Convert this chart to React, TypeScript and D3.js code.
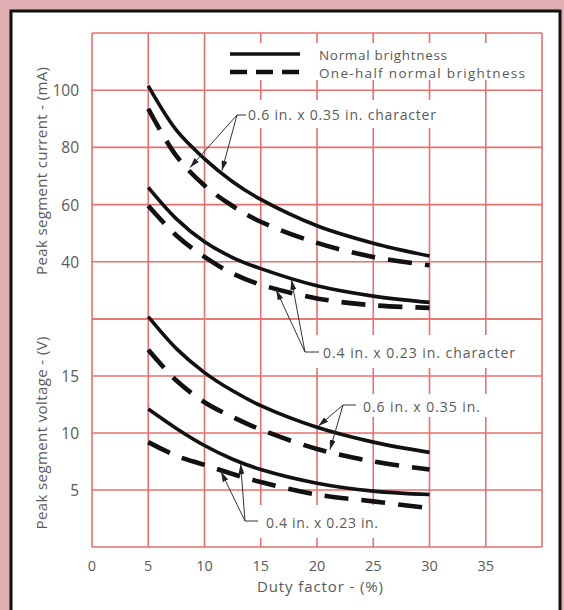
import React from 'react';
import * as d3 from 'd3';

// Duty factor sample points (%)
const duty = [5, 7.5, 10, 12.5, 15, 20, 25, 30];
// Peak segment current (mA)
const currentLargeNormal = [101.5, 86, 76, 68, 61.8, 52.6, 46.5, 42];
const currentLargeHalf = [93.5, 77, 66.7, 59.5, 54, 46.6, 41.7, 38.8];
const currentSmallNormal = [66, 55, 47, 41.5, 37.6, 31.6, 28, 25.8];
const currentSmallHalf = [59.6, 49.2, 41.7, 35.9, 32, 27.2, 24.8, 23.9];
// Peak segment voltage (V)
const voltageLargeNormal = [20.2, 17.4, 15.3, 13.7, 12.4, 10.5, 9.2, 8.3];
const voltageLargeHalf = [17.3, 14.6, 12.7, 11.4, 10.3, 8.6, 7.5, 6.8];
const voltageSmallNormal = [12.1, 10.4, 8.9, 7.7, 6.8, 5.6, 4.9, 4.6];
const voltageSmallHalf = [9.2, 8.0, 7.2, 6.4, 5.7, 4.6, 4.0, 3.4];

const xGrid = [0, 5, 10, 15, 20, 25, 30, 35, 40];
const xTickLabels = [0, 5, 10, 15, 20, 25, 30, 35];
const currentGrid = [120, 100, 80, 60, 40, 20];
const currentTickLabels = [100, 80, 60, 40];
const voltageGrid = [20, 15, 10, 5, 0];
const voltageTickLabels = [15, 10, 5];

const legendLabels = ['Normal brightness', 'One-half normal brightness'];
const sizeLabels = ['0.6 in. x 0.35 in. character', '0.4 in. x 0.23 in. character', '0.6 in. x 0.35 in.', '0.4 in. x 0.23 in.'];

const W = 564, H = 610;
const PINK = '#e0adb2';
const GRID = '#e66f6f';
const TEXT = '#5a5a5a';
const FONT = '"Open Sans", "Noto Sans", sans-serif';

function interp(xs: number[], ys: number[], v: number) {
  for (let i = 0; i < xs.length - 1; i++) {
    if (v >= xs[i] && v <= xs[i + 1]) {
      const t = (v - xs[i]) / (xs[i + 1] - xs[i]);
      return ys[i] + t * (ys[i + 1] - ys[i]);
    }
  }
  return ys[ys.length - 1];
}

export default function App() {
  const x = d3.scaleLinear().domain([0, 40]).range([92, 542]);
  const yTop = d3.scaleLinear().domain([20, 120]).range([319, 33]);
  const yBot = d3.scaleLinear().domain([0, 20]).range([547, 319]);

  const curve = d3.curveCatmullRom.alpha(0.5);
  const lineTop = d3.line<number>().x((_, i) => x(duty[i])).y(d => yTop(d)).curve(curve);
  const lineBot = d3.line<number>().x((_, i) => x(duty[i])).y(d => yBot(d)).curve(curve);

  const solid = { fill: 'none', stroke: '#111', strokeWidth: 3.6 };
  const dashed = { fill: 'none', stroke: '#111', strokeWidth: 4.6, strokeDasharray: '24 13' };

  const masks = [
    [225, 43, 305, 37],
    [230, 100, 220, 28],
    [298, 335, 227, 33],
    [340, 394, 152, 23],
    [240, 505, 150, 33],
  ];

  const arrow = (ax: number, ay: number, d: number, series: number[], ys: (v: number) => number, key: string) => {
    const tx = x(d);
    const ty = ys(interp(duty, series, d));
    const dx = tx - ax, dy = ty - ay;
    const len = Math.hypot(dx, dy);
    const ex = tx - (dx / len) * 2;
    const ey = ty - (dy / len) * 2;
    return <line key={key} x1={ax} y1={ay} x2={ex} y2={ey} stroke="#333" strokeWidth={1} markerEnd="url(#ah)" />;
  };

  const left = x(0), right = x(40);

  return (
    <div style={{ position: 'absolute', left: 0, top: 0 }}>
      <svg width={W} height={H} style={{ display: 'block' }} fontFamily={FONT}>
        <defs>
          <marker id="ah" viewBox="0 0 10 6" refX="10" refY="3" markerWidth="10" markerHeight="6" markerUnits="userSpaceOnUse" orient="auto">
            <path d="M0,0L10,3L0,6z" fill="#222" />
          </marker>
        </defs>
        <rect x={0} y={0} width={W} height={H} fill={PINK} />
        <rect x={11} y={11} width={549} height={640} fill="#fff" stroke="#111" strokeWidth={3} />

        <g stroke={GRID} strokeWidth={1.6}>
          {xGrid.map(v => (
            <line key={'xg' + v} x1={x(v)} x2={x(v)} y1={yTop(120)} y2={yBot(0)} />
          ))}
          {currentGrid.map(v => (
            <line key={'cg' + v} x1={left} x2={right} y1={yTop(v)} y2={yTop(v)} />
          ))}
          {voltageGrid.map(v => (
            <line key={'vg' + v} x1={left} x2={right} y1={yBot(v)} y2={yBot(v)} />
          ))}
        </g>
        {masks.map((m, i) => (
          <rect key={'m' + i} x={m[0]} y={m[1]} width={m[2]} height={m[3]} fill="#fff" />
        ))}

        <path d={lineTop(currentLargeNormal) || ''} {...solid} />
        <path d={lineTop(currentLargeHalf) || ''} {...dashed} />
        <path d={lineTop(currentSmallNormal) || ''} {...solid} />
        <path d={lineTop(currentSmallHalf) || ''} {...dashed} />
        <path d={lineBot(voltageLargeNormal) || ''} {...solid} />
        <path d={lineBot(voltageLargeHalf) || ''} {...dashed} />
        <path d={lineBot(voltageSmallNormal) || ''} {...solid} />
        <path d={lineBot(voltageSmallHalf) || ''} {...dashed} />

        <line x1={230} x2={300} y1={54} y2={54} stroke="#111" strokeWidth={3.6} />
        <line x1={230} x2={300} y1={72} y2={72} stroke="#111" strokeWidth={4.6} strokeDasharray="17 9" />
        <g fill={TEXT} fontSize={13.5} dominantBaseline="central">
          <text x={319} y={55} textLength={128} lengthAdjust="spacing">{legendLabels[0]}</text>
          <text x={319} y={72.5} textLength={206} lengthAdjust="spacing">{legendLabels[1]}</text>
        </g>

        <g stroke="#333" strokeWidth={1}>
          <line x1={237} x2={246} y1={115} y2={115} />
          <line x1={305} x2={319} y1={352} y2={352} />
          <line x1={343} x2={356} y1={405} y2={405} />
          <line x1={245} x2={258} y1={521} y2={521} />
        </g>
        {arrow(237, 115, 8.6, currentLargeHalf, yTop, 'a1')}
        {arrow(237, 115, 11.5, currentLargeNormal, yTop, 'a2')}
        {arrow(305, 352, 16.3, currentSmallHalf, yTop, 'a3')}
        {arrow(305, 352, 17.7, currentSmallNormal, yTop, 'a4')}
        {arrow(343, 405, 20, voltageLargeNormal, yBot, 'a5')}
        {arrow(343, 405, 21.1, voltageLargeHalf, yBot, 'a6')}
        {arrow(245, 521, 11.4, voltageSmallHalf, yBot, 'a7')}
        {arrow(245, 521, 13.2, voltageSmallNormal, yBot, 'a8')}
        <g fill={TEXT} fontSize={14} dominantBaseline="central">
          <text x={248} y={114} textLength={188} lengthAdjust="spacing">{sizeLabels[0]}</text>
          <text x={323} y={352} textLength={192} lengthAdjust="spacing">{sizeLabels[1]}</text>
          <text x={363} y={406} textLength={117} lengthAdjust="spacing">{sizeLabels[2]}</text>
          <text x={266} y={522} textLength={112} lengthAdjust="spacing">{sizeLabels[3]}</text>
        </g>

        <g fill={TEXT} fontSize={15.5} textAnchor="end" dominantBaseline="central">
          {currentTickLabels.map(v => (
            <text key={'ct' + v} x={79} y={yTop(v)}>{v}</text>
          ))}
          {voltageTickLabels.map(v => (
            <text key={'vt' + v} x={79} y={yBot(v)}>{v}</text>
          ))}
        </g>
        <g fill={TEXT} fontSize={14.5} textAnchor="middle" dominantBaseline="central">
          {xTickLabels.map(v => (
            <text key={'xt' + v} x={x(v)} y={565}>{v}</text>
          ))}
        </g>

        <g fill={TEXT} fontSize={15} textAnchor="middle" dominantBaseline="central">
          <text transform="translate(41,171) rotate(-90)" textLength={208} lengthAdjust="spacing">Peak segment current - (mA)</text>
          <text transform="translate(41,433) rotate(-90)" textLength={193} lengthAdjust="spacing">Peak segment voltage - (V)</text>
          <text x={320} y={586} textLength={126} lengthAdjust="spacing">Duty factor - (%)</text>
        </g>
      </svg>
    </div>
  );
}
